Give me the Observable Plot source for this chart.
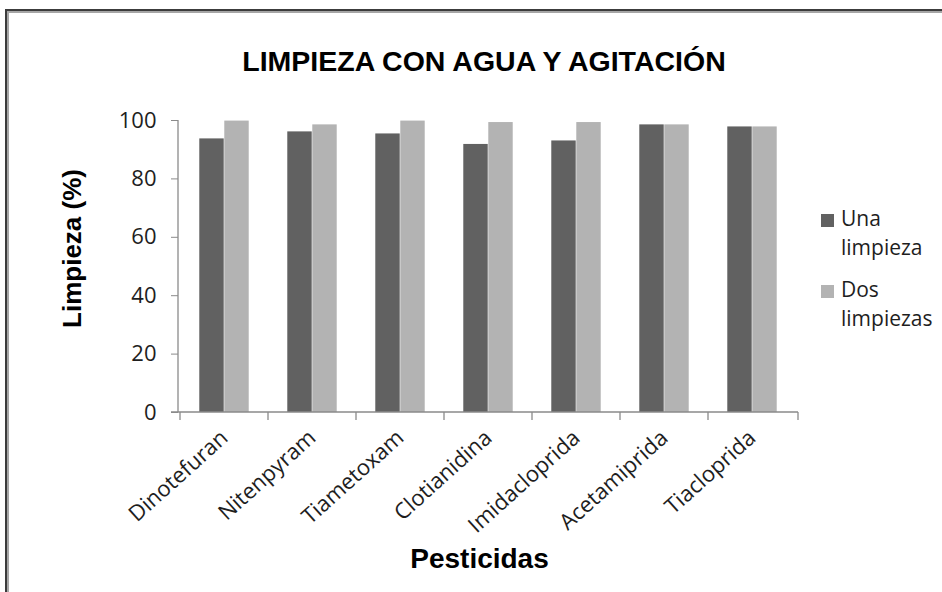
<!DOCTYPE html>
<html>
<head>
<meta charset="utf-8">
<script src="https://cdn.jsdelivr.net/npm/d3@7"></script>
<script src="https://cdn.jsdelivr.net/npm/@observablehq/plot@0.6"></script>
<style>
  html, body { margin: 0; padding: 0; background: #fff; }
  #wrap { position: relative; width: 942px; height: 592px; overflow: hidden; background: #fff; }
  .edge-dark { position: absolute; left: 5px; top: 9px; width: 2000px; height: 2000px;
    border-left: 2px solid #3c3c3c; border-top: 2px solid #3c3c3c; }
  .edge-light { position: absolute; left: 7px; top: 11px; width: 2000px; height: 2000px;
    border-left: 2px solid #a6a6a6; border-top: 2px solid #a6a6a6; }
  #chart { position: absolute; left: 0; top: 0; }
  #title { position: absolute; left: 0; top: 47px; width: 968px; text-align: center;
    font: bold 28.5px/28.5px "Liberation Sans", Arial, sans-serif; color: #000; white-space: nowrap; }
  #legend { position: absolute; left: 821px; top: 0; font: 21px/29px "Open Sans", sans-serif; color: #1e1e1e; }
  .item { position: absolute; left: 0; width: 120px; }
  .swatch { position: absolute; left: 0; width: 13px; height: 13px; }
  .label { position: absolute; left: 20px; white-space: nowrap; }
</style>
</head>
<body>
<div id="wrap">
  <div class="edge-dark"></div>
  <div class="edge-light"></div>
  <div id="chart"></div>
  <div id="title"></div>
  <div id="legend"></div>
</div>
<script>
// Percentage of pesticide removed after washing with water and agitation
const categories = ["Dinotefuran", "Nitenpyram", "Tiametoxam", "Clotianidina", "Imidacloprida", "Acetamiprida", "Tiacloprida"];
const unaLimpieza = [93.7, 96.1, 95.4, 91.8, 93.0, 98.5, 97.8];
const dosLimpiezas = [99.8, 98.5, 99.8, 99.3, 99.3, 98.5, 97.8];
const seriesNames = ["Una limpieza", "Dos limpiezas"];
const seriesColors = ["#616161", "#b3b3b3"];
const yTicks = [0, 20, 40, 60, 80, 100];
const titleText = "LIMPIEZA CON AGUA Y AGITACIÓN";
const yTitle = "Limpieza (%)";
const xTitle = "Pesticidas";

const rows = [];
categories.forEach((c, i) => {
  rows.push({pest: c, serie: seriesNames[0], value: unaLimpieza[i]});
  rows.push({pest: c, serie: seriesNames[1], value: dosLimpiezas[i]});
});

const W = 942, H = 592;
const mL = 178, mR = 144, mT = 120, mB = 180;
const band = (W - mL - mR) / categories.length;
const barW = 25;

const chart = Plot.plot({
  width: W,
  height: H,
  marginLeft: mL,
  marginRight: mR,
  marginTop: mT,
  marginBottom: mB,
  style: {fontFamily: "'Open Sans', sans-serif", background: "transparent", overflow: "visible"},
  x: {domain: categories, padding: 0, axis: null},
  y: {domain: [0, 100], axis: null},
  marks: [
    Plot.barY(rows.filter(d => d.serie === seriesNames[0]), {
      x: "pest", y: "value", fill: seriesColors[0],
      insetLeft: band / 2 - barW, insetRight: band / 2
    }),
    Plot.barY(rows.filter(d => d.serie === seriesNames[1]), {
      x: "pest", y: "value", fill: seriesColors[1],
      insetLeft: band / 2, insetRight: band / 2 - barW
    }),
    Plot.axisY({ticks: yTicks, tickSize: 7, tickPadding: 15, fontSize: 22,
      stroke: "#8a8a8a", fill: "#1e1e1e", label: null}),
    Plot.axisX({tickSize: 0, tickRotate: -42, tickPadding: 22, fontSize: 22,
      fill: "#1e1e1e", label: null}),
    Plot.text([yTitle], {frameAnchor: "left", textAnchor: "middle", dx: -106, dy: -18, rotate: -90,
      fontSize: 26, fontWeight: "bold", fontFamily: "'Liberation Sans', Arial, sans-serif", fill: "#000"}),
    Plot.text([xTitle], {frameAnchor: "bottom", dx: -9, dy: 155,
      fontSize: 28, fontWeight: "bold", fontFamily: "'Liberation Sans', Arial, sans-serif", fill: "#000"})
  ]
});

// Axis lines and category separator ticks, placed with the plot's own scales
const xs = chart.scale("x");
const ys = chart.scale("y");
const svg = d3.select(chart);
const g = svg.append("g").attr("stroke", "#8a8a8a").attr("stroke-width", 1.3).attr("fill", "none");
const x0 = xs.range[0], x1 = xs.range[1];
const yZero = ys.apply(0), yTop = ys.apply(100);
g.append("line").attr("x1", x0).attr("x2", x0).attr("y1", yTop).attr("y2", yZero);
g.append("line").attr("x1", x0 - 7).attr("x2", x1).attr("y1", yZero).attr("y2", yZero);
const edges = categories.map(c => xs.apply(c)).concat([x1]);
edges.forEach(ex => {
  g.append("line").attr("x1", ex).attr("x2", ex).attr("y1", yZero).attr("y2", yZero + 8);
});

document.getElementById("chart").appendChild(chart);
document.getElementById("title").textContent = titleText;

// Legend: each series name wraps onto two lines
const legend = d3.select("#legend");
const itemTops = [204, 275];
seriesNames.forEach((name, i) => {
  const item = legend.append("div").attr("class", "item").style("top", itemTops[i] + "px");
  item.append("div").attr("class", "swatch").style("top", "10px").style("background", seriesColors[i]);
  item.append("div").attr("class", "label").html(name.replace(" ", "<br>"));
});
</script>
</body>
</html>
